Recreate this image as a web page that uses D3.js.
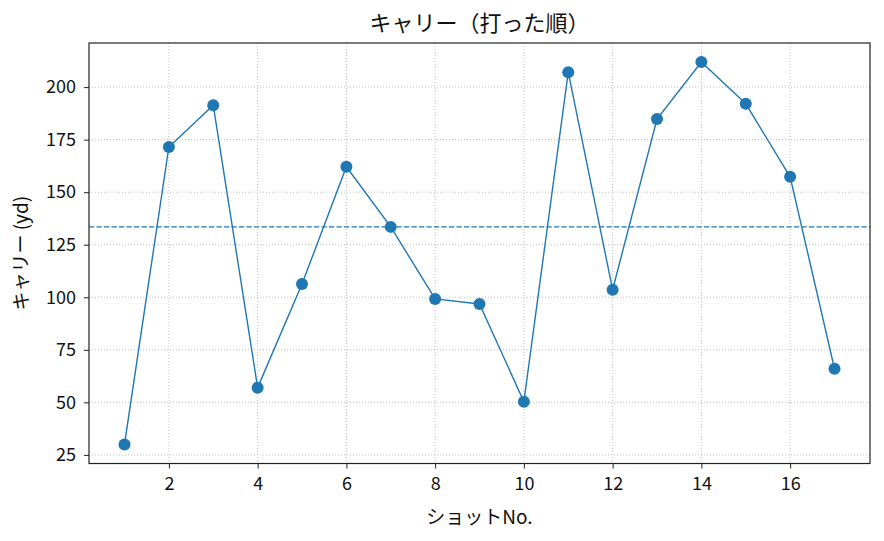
<!DOCTYPE html>
<html><head><meta charset="utf-8">
<script src="https://cdn.jsdelivr.net/npm/d3@7"></script>
<style>
body{margin:0;background:#fff;}
text{font-family:"Noto Sans CJK JP","Noto Sans",sans-serif;}
</style></head>
<body><svg id="c" width="884" height="541"></svg>
<script>
const shots = [1,2,3,4,5,6,7,8,9,10,11,12,13,14,15,16,17];
const carry = [30,171.5,191.4,57,106.3,162.1,133.5,99.2,96.8,50.3,207.1,103.6,184.8,211.9,192.1,157.3,66];
const xTicks = [2,4,6,8,10,12,14,16];
const yTicks = [25,50,75,100,125,150,175,200];
const title = "キャリー（打った順）";
const xLabel = "ショットNo.";
const yLabel = "キャリー (yd)";

const median = d3.median(carry);
const svg = d3.select("#c");
const L=89, R=870, T=43, B=463.5;
const xMin=d3.min(shots), xMax=d3.max(shots), yMin=d3.min(carry), yMax=d3.max(carry);
const xm=(xMax-xMin)*0.05, ym=(yMax-yMin)*0.05;
const x=d3.scaleLinear().domain([xMin-xm,xMax+xm]).range([L,R]);
const y=d3.scaleLinear().domain([yMin-ym,yMax+ym]).range([B,T]);
const blue="#1f77b4";

// grid
const g=svg.append("g");
g.selectAll(".gx").data(xTicks).enter().append("line")
 .attr("x1",d=>x(d)).attr("x2",d=>x(d)).attr("y1",T).attr("y2",B)
 .attr("stroke","#b0b0b0").attr("stroke-width",0.8).attr("stroke-dasharray","1,2");
g.selectAll(".gy").data(yTicks).enter().append("line")
 .attr("y1",d=>y(d)).attr("y2",d=>y(d)).attr("x1",L).attr("x2",R)
 .attr("stroke","#b0b0b0").attr("stroke-width",0.8).attr("stroke-dasharray","1,2");

// median line
svg.append("line").attr("x1",L).attr("x2",R).attr("y1",y(median)).attr("y2",y(median))
 .attr("stroke",blue).attr("stroke-width",1.4).attr("stroke-dasharray","5.2,2.3");

// line + points
const pts=shots.map((s,i)=>[s,carry[i]]);
svg.append("path").datum(pts).attr("fill","none").attr("stroke",blue).attr("stroke-width",1.4)
 .attr("d",d3.line().x(d=>x(d[0])).y(d=>y(d[1])));
svg.selectAll(".pt").data(pts).enter().append("circle")
 .attr("cx",d=>x(d[0])).attr("cy",d=>y(d[1])).attr("r",6).attr("fill",blue);

// axes
const xa=svg.append("g").attr("transform",`translate(0,${B})`)
 .call(d3.axisBottom(x).tickValues(xTicks).tickSize(5).tickPadding(9).tickFormat(d3.format("d")));
const ya=svg.append("g").attr("transform",`translate(${L},0)`)
 .call(d3.axisLeft(y).tickValues(yTicks).tickSize(5).tickPadding(8).tickFormat(d3.format("d")));
[xa,ya].forEach(a=>{a.select(".domain").remove();
 a.selectAll("line").attr("stroke","#222").attr("stroke-width",1);
 a.selectAll("text").attr("font-size",18).attr("fill","#111").style("font-family",'"Noto Sans CJK JP",sans-serif');});

// frame
svg.append("rect").attr("x",L).attr("y",T).attr("width",R-L).attr("height",B-T)
 .attr("fill","none").attr("stroke","#222").attr("stroke-width",1.2);

svg.append("text").attr("x",(L+R)/2).attr("y",31).attr("text-anchor","middle")
 .attr("font-size",22).attr("fill","#111").text(title);
svg.append("text").attr("x",(L+R)/2).attr("y",524).attr("text-anchor","middle")
 .attr("font-size",19).attr("fill","#111").text(xLabel);
svg.append("text").attr("transform",`translate(28,${(T+B)/2}) rotate(-90)`).attr("text-anchor","middle")
 .attr("font-size",19).attr("fill","#111").text(yLabel);
</script></body></html>
